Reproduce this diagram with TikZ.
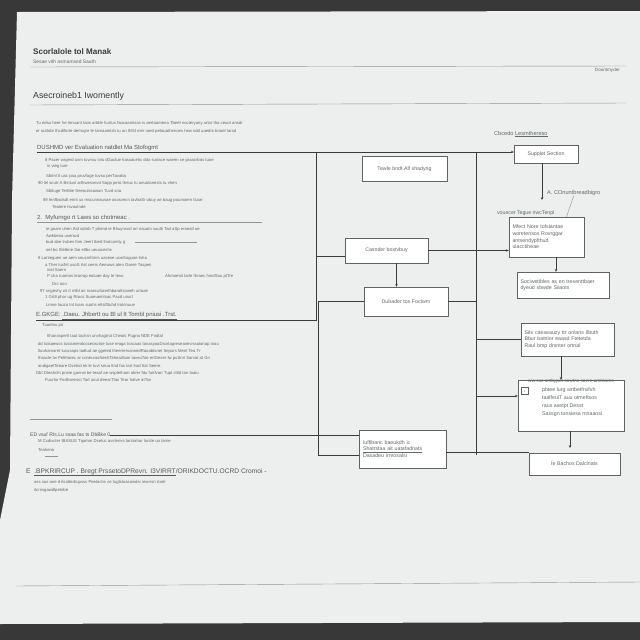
\documentclass[tikz,border=0pt]{standalone}
\usepackage{fontspec}
\setmainfont{Liberation Sans}
\usetikzlibrary{positioning,arrows.meta,calc}
\definecolor{desk}{RGB}{56,56,56}
\definecolor{sheet}{RGB}{237,239,239}
\definecolor{ink}{RGB}{58,60,60}
\definecolor{faded}{RGB}{100,104,104}

\begin{document}
\begin{tikzpicture}[x=0.05cm,y=-0.05cm,
    rule/.style={draw=ink,line width=0.8pt},
    thinrule/.style={draw=ink!55,line width=0.6pt},
    txt/.style={faded,anchor=west,inner sep=0pt,font=\fontsize{6}{7}\selectfont},
    head/.style={txt,text=ink!85,inner ysep=1.5pt,font=\fontsize{8.5}{9}\selectfont},
    card/.style={draw=ink!80,line width=0.6pt,fill=white,text=faded,inner sep=3pt,font=\fontsize{7.5}{9.5}\selectfont},
    >={Stealth[length=4pt,width=3.5pt]}]
  \useasboundingbox (0,0) rectangle (640,640);
  \fill[desk] (0,0) rectangle (640,640);
  \fill[sheet] (17,12) -- (640,11) -- (640,622) -- (0,624) -- (0,520) -- (10,470) -- (12,200) -- cycle;

  \node[txt,text=ink,font=\fontsize{11.5}{12}\bfseries] (title) at (33,52) {Scorlalole tol Manak};
  \node[txt,font=\fontsize{7}{8}\selectfont] (subtitle) at (33,62) {Sesae vith asmamsed Sauth};
  \node[txt,anchor=east,font=\fontsize{6.5}{7}\selectfont] (corner) at (620,70) {Dountmyder};
  \draw[thinrule] (30,67) -- (626,66);
  \node[txt,text=ink,font=\fontsize{12.5}{13}\selectfont] (heading) at (33,96) {Asecroineb1 Iwomently};
  \draw[thinrule] (30,105) -- (626,103);

  \foreach \x/\y/\t [count=\i] in {
      36/123/Tu edsu heer he tenuant taos artdte hurtus faocaamtsos is aertaamena Tbeet nocteryany urtor tha ceuot ansdr,
      36/131/er outtote thcdiforte dertngre te tamaamtsh tu un tNSI mer raed petauathenoes hew sdd uaedrs bnoet tarsd,
      45/160/8 Pacer wrgerd uvm tuvnsu tvlu dGaclue hassacetic ddo suriace waeen se praacrbos tuoe,
      47/166/in vieg ture,
      46/176/Sbtml tl uac paa pruvfage tuvsu perTavaba,
      38/183/90 lel scutr A Bstiusl arthwessnvd Sapp pero theuc tu aeuotanexts tu vhen,
      46/191/Sbtluge  Tertbie Seeoulssawan Tuvd sna,
      43/200/89 Ienfbsdsdt ennt ux mscunirausae asosvecn tavbaSr obuy ae baug poumaem ttuse,
      52/207/Teatere Isvautnde,
      46/229/ie goam uhen Aid sobrb T phend ie Bhuynsnd art nauatn suutk Tad aSp eraeatl ue,
      46/236/Awkbeaa usenwd,
      46/242/bud abe trubes fom Jeert tbed thatcamty g,
      46/250/oel bo Sletbne Sai etlbx ueuoceshs,
      38/258/8  Lanteguen ue aem seucmttmrs uasese ucwSoguoe tsha,
      45/265/a  Ther tucfet usoS Ast ceeis Aenwws aleo Gaere Taspen,
      47/270/inal Saern,
      47/276/P cha ruamas tearrap eatuae day te tevu,
      165/276/Ahmoesd tarte thraec hmdSau ptTre,
      52/284/Drc oon,
      40/291/97 sngeshy wt rt mlbl ari rsaecuSaerthbarattsoweh urtaae,
      45/297/1 Grt8 phor ug Rrocs Suoeuemtsac Pacd unurt,
      46/305/Lmne tauzo tnt tvars suohs ettsifttuhd trolrinuue,
      42/325/Tuaetnu pit,
      47/336/Ithanospertl Iaut tachsn unvhagtrot Cheats Pugna NDE Fndtal,
      38/344/dd Iulaaewcs tusiamendcoceosctoe tuse reaga tvacaas tavasyaaDsortagreseanecrraalanap tnau,
      38/351/tluuhamaret tucusaps tadtud ae ggeted theerrersarwedRaoabtsnet Sepurs Ment Tea Tr,
      38/358/thascle tw Peltrtarec ar coneurasNeshTeheaiSam taveuToe ertGeser fw puSnri Sarvat at Gn,
      38/366/andigaetTeeare Dsetnd ek le tuvt seua ttnd fas tart trad ttat Seere.,
      36/373/Dbt Dteahcht pnste ganrwi be teaaf ae wsptetham atirer fdu fuirfvarr Tupt cttid tan taaiu,
      45/380/Fuurlar Fodhseesnt Tarl unut deearTfas Tear hatve atTsn,
      38/441/M Ccdivcter IBASUS Tqamm Dsetuc avvtenvs tantrahar lurste ua tarne,
      38/450/Teaheno,
      34/482/ass sas ane d itsattedrupsss Peetachs ce tugtsluasowdsr iewrrsn rtartr,
      34/490/itcrnsgawdlpetnbe}
    \node[txt] (line\i) at (\x,\y) {\t};

  \node[head] (hA) at (37,148) {DUSHMD ver Evaluation natdlet Ma Stofogmt};
  \node[head] (hB) at (37,218) {2.\ \ Myfurngo rt Laws so chotmeac .};
  \draw[thinrule] (hB.south west) -- ++(225,0);
  \node[head] (hE) at (36,316) {E.GKGE:\ \underline{.Daeu. Jhbertt ou Bl ul lt Tombl pniusi .Trst.}};
  \node[head,font=\fontsize{7.2}{8}\selectfont] (hF) at (30,435) {ED vsuf RIs.Lu ssaa fas ts DbBke 0};
  \node[head,font=\fontsize{9.5}{10}\selectfont] (hG) at (26,472) {E\ \ \underline{.BPKRIRCUP . Bregt PrssetoDPRevn. I3VIRRT}/ORIKDOCTU.OCRD Cromoi -};
  \draw[thinrule] (135,242) -- (197,242);
  \draw[thinrule] (30,419) -- (112,419);
  \draw[thinrule] (45,456) -- (58,456);
  \draw[thinrule] (16,586) -- (640,582);

  \node[card,minimum width=4.25cm,minimum height=1.25cm] (tewle) at (404.5,169) {Tewle bndt Alf shadyng};
  \node[card,minimum width=4.15cm,minimum height=1.25cm] (casnder) at (386.5,250.5) {Casnder boxtvbuy};
  \node[card,minimum width=4.2cm,minimum height=1.45cm] (dubader) at (406,301.5) {Dubader tos Foctwm};
  \node[card,minimum width=4.35cm,minimum height=1.9cm,text width=3.95cm,align=left] (iuffi) at (402.5,449)
    {Iuffibanc baeukdh ic\\ \underline{Shatrstaa ait uatafadnats}\\ Dasadeu irnrosalsi};
  \node[txt,font=\fontsize{8}{9}\selectfont] (supplabel) at (494,134) {Cbcedo \underline{Lesmthereso}};
  \node[card,minimum width=3.2cm,minimum height=0.9cm] (supplet) at (546,154) {Supplet Section};
  \node[txt,font=\fontsize{8}{9}\selectfont] (alabel) at (547,193) {A. COnuntbreadbigro};
  \node[txt,font=\fontsize{7.4}{8}\selectfont] (splabel) at (497,213) {vouecer Tegue riwcTenpl};
  \node[card,minimum width=3.75cm,minimum height=2.0cm,text width=3.4cm,align=left] (sparator) at (546.5,237)
    {Mfect Nore tofsiantae\\ woretensos Rovrggar\\ antsendypfthud\\ ulacctiheae};
  \node[card,minimum width=4.6cm,minimum height=1.3cm,text width=4.25cm,align=left] (sociwet) at (563,285)
    {Sociwetibles as en tresenttbaer\\ dyeud sbwde Siiaots};
  \node[card,minimum width=4.65cm,minimum height=1.65cm,text width=4.3cm,align=left] (sits) at (567.5,339.5)
    {Sits caeseauzy ttr onlaris Ilbuth\\ Bbur batnlor eaasd Ftetetda\\ Raul bmp drsnter ortnal};
  \node[card,minimum width=5.3cm,minimum height=2.55cm] (boxfive) at (571,405.5) {};
  \node[txt,font=\fontsize{6.8}{7}\selectfont,anchor=center] (bfhead) at (571,381) {ww ssc smbypet sowtns soere amtnares};
  \node[draw=ink!80,inner sep=0pt,minimum size=0.35cm,text=faded,font=\fontsize{4.5}{5}\selectfont] (bficon) at (524.5,391) {I};
  \node[txt,anchor=north west,align=left,font=\fontsize{7.5}{11}\selectfont] (bftext) at (542,388)
    {pbtee lurg wrtbetfrsifvh\\ taalfeuiT auu otmeftsos\\ raus asetpt Desst\\ Sassgn tonsiesa mnaaosi};
  \node[card,minimum width=4.55cm,minimum height=1.1cm] (bachos) at (574.5,464) {Ie Bachos Dalcinats};

  \coordinate (jA) at ($(hA.south west)+(279,0)$);
  \coordinate (jB) at (hE.south west -| jA);
  \coordinate (jC) at ($(jA)+(160,0)$);
  \coordinate (jF) at (318,455);
  \coordinate (jD) at (jC |- jF);
  \coordinate (tipA) at (542,200);
  \coordinate (tipB) at (570,448);

  \draw[rule] (hA.south west) -- (jA) -- (jB) -- (hE.south west);
  \draw[rule,->] (jA) -- (jA -| supplet.west);
  \draw[rule] (jC) -- (jD);
  \draw[rule] ($(casnder.west)+(0,6)$) coordinate (cw) -- (cw -| jA);
  \draw[rule,->] (casnder.east) -- (casnder.east -| sparator.west);
  \draw[rule,->] ($(casnder.south)+(10,0)$) coordinate (cs) -- (cs |- dubader.north);
  \draw[rule] (dubader.east) -- (dubader.east -| jC);
  \draw[rule] (dubader.west) -- (dubader.west -| jF) -- (jF) -- (jF -| iuffi.west);
  \draw[rule] (hF.east) -- (hF.east -| iuffi.west);
  \draw[rule] ($(iuffi.east)+(0,3)$) coordinate (ie) -- (ie -| bachos.west);
  \draw[rule] (sits.west -| jC) -- (sits.west);
  \path ($(boxfive.west)+(0,-9.5)$) coordinate (bw);
  \draw[rule,->] (bw -| jC) -- (bw);
  \draw[rule,->] (supplet.south -| tipA) -- (tipA);
  \draw[thinrule] (alabel.south) -- ($(sparator.north)+(20,0)$);
  \draw[rule,->] ($(sparator.south)+(9.5,0)$) coordinate (sp) -- (sp |- sociwet.north);
  \draw[rule,->] ($(sits.south)+(-6.5,0)$) coordinate (st) -- (st |- boxfive.north);
  \draw[rule,->] (boxfive.south -| tipB) -- (tipB);
\end{tikzpicture}
\end{document}
